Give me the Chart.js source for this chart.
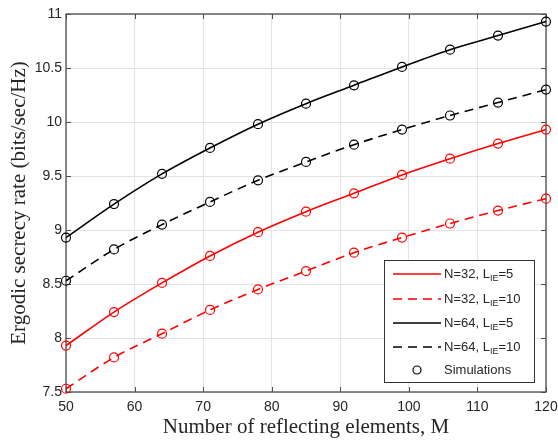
<!DOCTYPE html>
<html>
<head>
<meta charset="utf-8">
<script src="https://cdn.jsdelivr.net/npm/chart.js@4/dist/chart.umd.min.js"></script>
<style>
html,body{margin:0;padding:0;background:#fff;}
#wrap{width:558px;height:441px;position:relative;}
</style>
</head>
<body>
<div id="wrap"><canvas id="c" width="558" height="441"></canvas></div>
<script>
// Data
const M = [50, 57, 64, 71, 78, 85, 92, 99, 106, 113, 120];
const rate_N32_L5  = [7.93, 8.24, 8.51, 8.76, 8.98, 9.17, 9.34, 9.51, 9.66, 9.80, 9.93];
const rate_N32_L10 = [7.53, 7.82, 8.04, 8.26, 8.45, 8.62, 8.79, 8.93, 9.06, 9.18, 9.29];
const rate_N64_L5  = [8.93, 9.24, 9.52, 9.76, 9.98, 10.17, 10.34, 10.51, 10.67, 10.80, 10.93];
const rate_N64_L10 = [8.53, 8.82, 9.05, 9.26, 9.46, 9.63, 9.79, 9.93, 10.06, 10.18, 10.30];
const xTicks = [50, 60, 70, 80, 90, 100, 110, 120];
const yTicks = [7.5, 8, 8.5, 9, 9.5, 10, 10.5, 11];
const yTickLabels = ['7.5', '8', '8.5', '9', '9.5', '10', '10.5', '11'];
const legendLabels = [
  {main: 'N=32, L', sub: 'IE', tail: '=5'},
  {main: 'N=32, L', sub: 'IE', tail: '=10'},
  {main: 'N=64, L', sub: 'IE', tail: '=5'},
  {main: 'N=64, L', sub: 'IE', tail: '=10'},
  {main: 'Simulations', sub: '', tail: ''}
];

const pts = arr => M.map((x, i) => ({x: x, y: arr[i]}));

function ds(label, arr, color, dash) {
  return {
    label: label,
    data: pts(arr),
    borderColor: color,
    borderWidth: 1.6,
    borderDash: dash,
    cubicInterpolationMode: 'monotone',
    pointStyle: 'circle',
    pointRadius: 4.5,
    pointBorderWidth: 1.2,
    pointBorderColor: color,
    pointBackgroundColor: 'rgba(0,0,0,0)',
    fill: false,
    clip: false
  };
}

const DASH = [9, 6];
const AX = '#262626';
const SANS = '"Liberation Sans", Arial, sans-serif';

const frame = {
  id: 'frame',
  beforeDatasetsDraw(chart) {
    const ctx = chart.ctx, a = chart.chartArea;
    const xs = chart.scales.x, ys = chart.scales.y;
    ctx.save();
    ctx.strokeStyle = '#4d4d4d';
    ctx.lineWidth = 1;
    ctx.beginPath();
    xTicks.forEach(v => {
      const p = Math.round(xs.getPixelForValue(v)) + 0.5;
      ctx.moveTo(p, a.bottom); ctx.lineTo(p, a.bottom - 5);
      ctx.moveTo(p, a.top); ctx.lineTo(p, a.top + 5);
    });
    yTicks.forEach(v => {
      const p = Math.round(ys.getPixelForValue(v)) + 0.5;
      ctx.moveTo(a.left, p); ctx.lineTo(a.left + 5, p);
      ctx.moveTo(a.right, p); ctx.lineTo(a.right - 5, p);
    });
    ctx.stroke();
    ctx.lineWidth = 1.3;
    ctx.strokeRect(a.left, a.top, a.right - a.left, a.bottom - a.top);
    ctx.restore();
  },
  afterDraw(chart) {
    const ctx = chart.ctx;
    ctx.save();
    const lx = 384, ly = 260, lw = 150, lh = 122;
    ctx.fillStyle = '#fff';
    ctx.fillRect(lx, ly, lw, lh);
    ctx.strokeStyle = '#333';
    ctx.lineWidth = 1;
    ctx.strokeRect(lx + 0.5, ly + 0.5, lw, lh);
    const rows = [274, 299, 323, 347, 370];
    const cols = ['#ff0000', '#ff0000', '#000000', '#000000'];
    const dashes = [[], DASH, [], DASH];
    for (let i = 0; i < 4; i++) {
      ctx.strokeStyle = cols[i];
      ctx.lineWidth = 1.6;
      ctx.setLineDash(dashes[i]);
      ctx.beginPath();
      ctx.moveTo(393, rows[i]); ctx.lineTo(441, rows[i]);
      ctx.stroke();
    }
    ctx.setLineDash([]);
    ctx.strokeStyle = '#000';
    ctx.lineWidth = 1.2;
    ctx.beginPath();
    ctx.arc(417, rows[4], 4, 0, Math.PI * 2);
    ctx.stroke();
    ctx.fillStyle = AX;
    ctx.textBaseline = 'middle';
    ctx.textAlign = 'left';
    legendLabels.forEach((l, i) => {
      let x = 444;
      ctx.font = '13px ' + SANS;
      ctx.fillText(l.main, x, rows[i]);
      x += ctx.measureText(l.main).width;
      if (l.sub) {
        ctx.font = '9px ' + SANS;
        ctx.fillText(l.sub, x, rows[i] + 5);
        x += ctx.measureText(l.sub).width;
        ctx.font = '13px ' + SANS;
        ctx.fillText(l.tail, x, rows[i]);
      }
    });
    ctx.restore();
  }
};

new Chart(document.getElementById('c'), {
  type: 'line',
  data: {
    datasets: [
      ds('N=32, L_IE=5', rate_N32_L5, '#ff0000', []),
      ds('N=32, L_IE=10', rate_N32_L10, '#ff0000', DASH),
      ds('N=64, L_IE=5', rate_N64_L5, '#000000', []),
      ds('N=64, L_IE=10', rate_N64_L10, '#000000', DASH)
    ]
  },
  options: {
    responsive: false,
    animation: false,
    devicePixelRatio: 1,
    layout: {padding: {top: 14, right: 12, left: 0, bottom: 0}},
    plugins: {legend: {display: false}, tooltip: {enabled: false}},
    scales: {
      x: {
        type: 'linear', min: 50, max: 120,
        afterBuildTicks: s => { s.ticks = xTicks.map(v => ({value: v})); },
        afterFit: s => { s.height = 49; s.paddingLeft = 0; s.paddingRight = 0; },
        grid: {color: '#e3e3e3', lineWidth: 1, drawTicks: false},
        border: {display: false},
        ticks: {color: AX, padding: 7, font: {family: SANS, size: 14}, maxRotation: 0,
                callback: v => String(v)},
        title: {display: true, text: 'Number of reflecting elements, M', color: AX,
                font: {family: '"Liberation Serif", "Times New Roman", serif', size: 21}, padding: {top: 0, bottom: 1}}
      },
      y: {
        type: 'linear', min: 7.5, max: 11,
        afterBuildTicks: s => { s.ticks = yTicks.map(v => ({value: v})); },
        afterFit: s => { s.width = 66; s.paddingTop = 0; s.paddingBottom = 0; },
        grid: {color: '#e3e3e3', lineWidth: 1, drawTicks: false},
        border: {display: false},
        ticks: {color: AX, padding: 4, font: {family: SANS, size: 14},
                callback: v => yTickLabels[yTicks.indexOf(v)] ?? String(v)},
        title: {display: true, text: 'Ergodic secrecy rate (bits/sec/Hz)', color: AX,
                font: {family: '"Liberation Serif", "Times New Roman", serif', size: 21}, padding: {top: 7, bottom: 0}}
      }
    }
  },
  plugins: [frame]
});
</script>
</body>
</html>
